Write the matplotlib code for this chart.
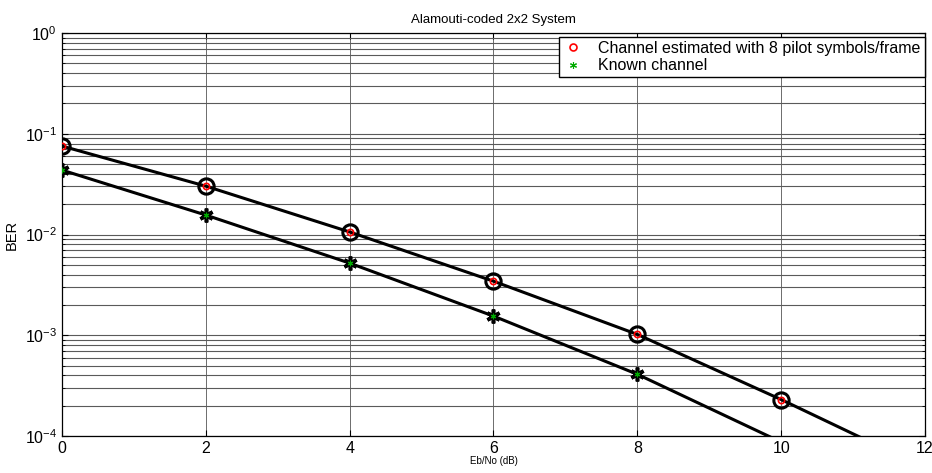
import numpy as np
import matplotlib.pyplot as plt
from matplotlib.ticker import LogLocator, NullFormatter

plt.rcParams['font.family'] = ['Liberation Sans', 'DejaVu Sans']

'''Values read off the reference'''
EBNO_DB = [0, 2, 4, 6, 8, 10, 12]
BER_ESTIMATED = [0.0755, 0.0302, 0.0106, 0.00344, 0.00102, 0.00023, 0.000048]
BER_KNOWN = [0.0436, 0.0156, 0.0052, 0.00155, 0.00041, 0.000087, 0.000019]

YMIN = 1e-4
ASTERISK = (6, 2, 0)  # matlab-style '*'

fig = plt.figure(figsize=(9.32, 4.73), dpi=100)
ax = fig.add_axes([0.0665, 0.0782, 0.926, 0.852])

x = np.array(EBNO_DB)
est = np.array(BER_ESTIMATED)
known = np.array(BER_KNOWN)
vis_est = est >= YMIN
vis_known = known >= YMIN

# thick black curves with big black markers
ax.semilogy(x, est, '-', color='black', lw=2.2, zorder=3)
ax.semilogy(x, known, '-', color='black', lw=2.2, zorder=3)
ax.plot(x[vis_est], est[vis_est], 'o', ms=11, mfc='none', mec='black', mew=2.2, zorder=4)
ax.plot(x[vis_known], known[vis_known], marker=ASTERISK, ls='none', ms=10, mec='black', mew=2.6, zorder=4)

# small coloured markers on top, these go in the legend
ax.plot(x[vis_est], est[vis_est], 'o', ms=4.5, mfc='none', mec='red', mew=1.2, ls='none',
        zorder=5, label='Channel estimated with 8 pilot symbols/frame')
ax.plot(x[vis_known], known[vis_known], marker=ASTERISK, ms=4, mec='#00aa00', mew=0.8, ls='none',
        zorder=5, label='Known channel')

ax.set_xlim(0, 12)
ax.set_ylim(YMIN, 1)
ax.set_xticks(range(0, 13, 2))
ax.yaxis.set_major_locator(LogLocator(base=10, numticks=10))
ax.yaxis.set_minor_locator(LogLocator(base=10, subs=np.arange(2, 10), numticks=100))
ax.yaxis.set_minor_formatter(NullFormatter())

ax.grid(True, which='major', axis='x', color='#555555', lw=0.6)
ax.grid(True, which='both', axis='y', color='#5a5a5a', lw=0.8)
ax.tick_params(which='both', direction='in', top=True, right=True, labelsize=11.5)
ax.tick_params(which='major', length=4)
ax.tick_params(which='minor', length=2)
for sp in ax.spines.values():
    sp.set_linewidth(0.9)

ax.set_title('Alamouti-coded 2x2 System', fontsize=9.5, pad=7)
ax.set_xlabel('Eb/No (dB)', fontsize=7, labelpad=0)
ax.set_ylabel('BER', fontsize=10.5, labelpad=4)

leg = ax.legend(loc='upper right', bbox_to_anchor=(0.9995, 0.99), fontsize=11.5, fancybox=False,
                framealpha=1, edgecolor='black', borderpad=0.25, labelspacing=0.15,
                handlelength=1.3, handletextpad=0.9, borderaxespad=0)
leg.get_frame().set_linewidth(1.0)
for h in leg.legend_handles:
    h.set_markersize(5)

plt.savefig('out.png', dpi=100)
